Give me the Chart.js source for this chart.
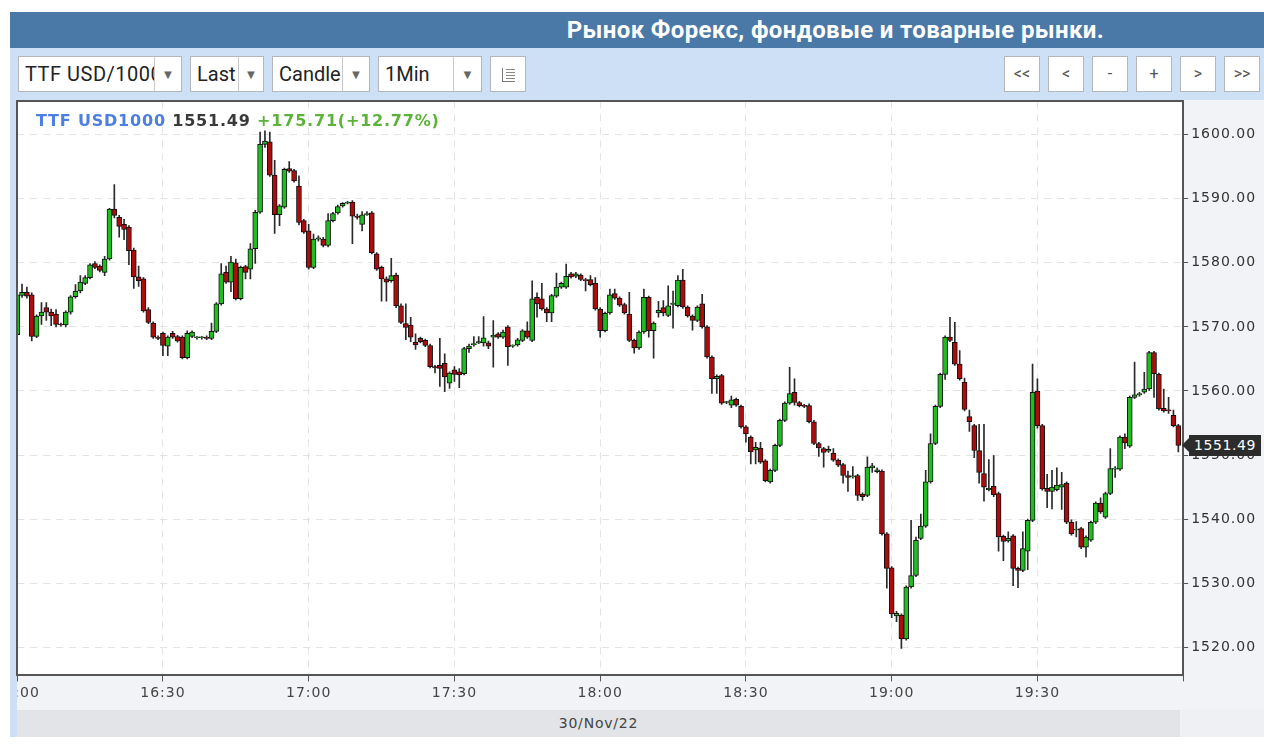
<!DOCTYPE html>
<html><head><meta charset="utf-8">
<script src="https://cdn.jsdelivr.net/npm/chart.js@4.4.1/dist/chart.umd.min.js"></script>
<style>
body{margin:0;background:#fff;width:1264px;height:747px;overflow:hidden;position:relative;font-family:Roboto,"Liberation Sans",sans-serif;}
.abs{position:absolute}
#frame{left:10px;top:12px;width:1254px;height:725px;background:#cde0f6}
#header{left:10px;top:12px;width:1254px;height:36px;background:#4a78a7;color:#fff;font-weight:bold;font-size:24px;letter-spacing:0.35px;line-height:36px;text-align:right;box-sizing:border-box;padding-right:160px;white-space:nowrap}
.sel{position:absolute;top:56px;height:36px;background:#fff;border:1px solid #b3b7bb;box-sizing:border-box;font-size:20px;line-height:34px;color:#222;white-space:nowrap}
.sel .t{position:absolute;left:6px;top:0;overflow:hidden}
.sel .a{position:absolute;right:0;top:0;bottom:0;width:26px;border-left:1px solid #c8c8c8;background:#fff;color:#666;font-size:13px;text-align:center;line-height:36px}
.btn{position:absolute;top:56px;width:36px;height:36px;background:#fff;border:1px solid #b3b7bb;box-sizing:border-box;font-size:16px;line-height:34px;color:#555;text-align:center}
#plotbg{left:17px;top:100px;width:1166px;height:575px;background:#fff}
#axisR{left:1183px;top:100px;width:81px;height:610px;background:#f1f3f6}
#axisB{left:17px;top:675px;width:1166px;height:35px;background:#f1f3f6}
#dateband{left:17px;top:710px;width:1163px;height:27px;background:#e2e4e7;color:#444;font-family:"DejaVu Sans";font-size:14px;letter-spacing:0.8px;line-height:27px;text-align:center}
#corner{left:1180px;top:710px;width:84px;height:27px;background:#eef0f3}
#wrap{left:17px;top:100px;width:1247px;height:610px;overflow:hidden}
#c{position:absolute;left:0;top:0}
#bl{left:16px;top:100px;width:2px;height:576px;background:#555}
#bt{left:16px;top:100px;width:1168px;height:2px;background:#555}
#legend{left:36px;top:111px;font-family:"DejaVu Sans";font-weight:bold;font-size:16px;white-space:nowrap;letter-spacing:0.8px}
#lp{left:1189px;height:21px;width:72px;background:#2c2c2c;color:#fff;font-family:"DejaVu Sans";font-size:14px;line-height:21px;text-align:center;letter-spacing:0.6px}
#lp:before{content:"";position:absolute;left:-7px;top:3px;border-top:7px solid transparent;border-bottom:7px solid transparent;border-right:7px solid #2c2c2c}
</style></head>
<body>
<div id="frame" class="abs"></div>
<div id="header" class="abs">Рынок Форекс, фондовые и товарные рынки.</div>

<div class="sel" style="left:18px;width:164px"><span class="t" style="width:131px;letter-spacing:0.5px">TTF USD/1000</span><span class="a">▼</span></div>
<div class="sel" style="left:190px;width:74px"><span class="t" style="width:46px">Last</span><span class="a" style="width:24px">▼</span></div>
<div class="sel" style="left:272px;width:98px"><span class="t" style="width:66px">Candle</span><span class="a">▼</span></div>
<div class="sel" style="left:378px;width:104px"><span class="t" style="width:70px">1Min</span><span class="a" style="width:27px">▼</span></div>
<div class="btn" style="left:490px"><div style="position:absolute;left:11px;top:11px;width:12px;height:13px;border-left:1px solid #777;border-bottom:1px solid #777;background:repeating-linear-gradient(to bottom,#888 0,#888 1px,transparent 1px,transparent 3px);background-size:9px 12px;background-repeat:no-repeat;background-position:3px 1px"></div></div>

<div class="btn" style="left:1004px">&lt;&lt;</div>
<div class="btn" style="left:1048px">&lt;</div>
<div class="btn" style="left:1092px">-</div>
<div class="btn" style="left:1136px">+</div>
<div class="btn" style="left:1180px">&gt;</div>
<div class="btn" style="left:1224px">&gt;&gt;</div>

<div id="plotbg" class="abs"></div>
<div id="axisR" class="abs"></div>
<div id="axisB" class="abs"></div>
<div id="dateband" class="abs">30/Nov/22</div>
<div id="corner" class="abs"></div>
<div id="wrap" class="abs"><canvas id="c" width="1320" height="660"></canvas></div>
<div id="bl" class="abs"></div>
<div id="bt" class="abs"></div>
<div id="legend" class="abs"><span style="color:#4d7fe2">TTF USD1000</span> <span style="color:#3a3a3a">1551.49</span> <span style="color:#5db33a">+175.71(+12.77%)</span></div>
<div id="lp" class="abs">1551.49</div>

<script>
const startHour = 16, startMinute = 0;
const dateLabel = "30/Nov/22";
const xTickStep = 30;
const yTickStep = 10;

const openV = [
1568.8,1574.9,1575.4,1575.0,1568.5,1571.7,1573.0,1572.3,1572.0,1570.4,
1570.3,1572.3,1574.7,1575.6,1576.8,1577.7,1579.9,1579.5,1578.5,1580.6,
1588.4,1587.1,1586.0,1585.6,1582.0,1577.8,1577.5,1572.7,1570.6,1568.4,
1569.0,1567.0,1569.0,1568.5,1568.4,1565.2,1568.5,1568.3,1568.3,1568.3,
1568.2,1569.3,1573.6,1578.5,1577.0,1580.0,1574.4,1579.4,1579.0,1582.2,
1587.9,1598.5,1598.9,1593.7,1587.5,1588.7,1594.7,1594.4,1592.0,1586.6,
1585.0,1579.3,1583.7,1583.7,1582.7,1586.6,1587.8,1588.9,1589.3,1589.5,
1587.3,1586.0,1587.5,1587.8,1581.4,1579.3,1577.5,1577.2,1578.1,1573.3,
1570.5,1570.3,1567.6,1568.2,1567.9,1567.1,1563.8,1564.0,1564.3,1561.2,
1563.3,1563.0,1562.7,1566.6,1567.2,1567.5,1567.5,1567.5,1568.4,1568.9,
1568.4,1570.0,1567.0,1567.2,1567.9,1569.4,1567.9,1574.6,1574.4,1572.8,
1572.2,1574.8,1576.2,1576.2,1578.3,1577.9,1578.1,1577.4,1577.4,1576.8,
1572.8,1569.4,1572.2,1575.2,1574.5,1573.5,1572.0,1567.9,1566.7,1569.2,
1574.6,1569.4,1572.2,1573.0,1571.8,1573.5,1573.3,1577.3,1573.1,1571.7,
1571.0,1573.6,1570.0,1565.3,1561.9,1562.4,1558.2,1557.8,1558.7,1557.6,
1554.4,1552.8,1550.8,1551.1,1549.1,1545.8,1547.6,1551.5,1555.4,1558.1,
1559.8,1558.2,1557.7,1557.7,1555.2,1551.8,1551.0,1550.6,1550.3,1549.2,
1548.5,1546.8,1546.6,1546.8,1543.9,1543.7,1548.0,1547.4,1547.5,1537.7,
1532.4,1524.9,1525.0,1521.3,1529.4,1531.2,1537.0,1538.9,1545.8,1551.8,
1557.6,1562.6,1568.4,1567.6,1564.2,1561.4,1556.0,1554.6,1550.7,1547.1,
1544.6,1545.1,1544.0,1537.3,1536.6,1537.4,1532.3,1532.0,1535.0,1539.8,
1560.0,1554.6,1544.8,1544.3,1544.6,1545.0,1545.6,1539.5,1538.3,1538.5,
1535.6,1536.7,1539.5,1542.5,1540.3,1544.0,1547.8,1547.8,1552.8,1551.4,
1559.0,1559.4,1559.8,1560.3,1566.0,1562.6,1557.3,1557.0,1556.2,1554.6];

const highV = [
1575.6,1576.7,1576.2,1575.3,1571.9,1573.8,1573.8,1572.8,1572.7,1570.6,
1572.5,1574.9,1576.6,1578.0,1578.0,1579.9,1580.2,1579.7,1581.0,1588.5,
1592.2,1587.4,1586.8,1585.8,1582.3,1579.5,1577.7,1573.0,1570.8,1568.6,
1569.2,1568.6,1569.3,1568.7,1568.6,1569.4,1569.4,1568.5,1568.5,1568.6,
1570.6,1573.8,1579.9,1579.5,1581.0,1580.6,1579.5,1579.6,1583.0,1588.2,
1600.4,1600.6,1600.4,1596.0,1589.1,1594.8,1595.8,1594.6,1593.6,1586.8,
1586.0,1584.5,1584.2,1584.0,1587.7,1587.9,1589.0,1589.4,1589.6,1589.7,
1587.6,1588.0,1588.0,1588.0,1581.6,1579.5,1577.8,1580.7,1578.4,1573.6,
1573.6,1571.5,1568.9,1568.4,1568.1,1567.3,1564.0,1568.2,1565.8,1563.0,
1563.8,1563.5,1566.8,1567.3,1568.5,1568.5,1571.6,1567.8,1571.0,1569.1,
1569.5,1570.2,1567.2,1568.2,1569.6,1570.8,1577.2,1575.3,1576.8,1573.0,
1575.1,1578.4,1577.0,1579.8,1578.5,1578.5,1578.3,1577.6,1578.0,1577.7,
1573.0,1572.3,1575.9,1575.9,1574.7,1573.7,1575.4,1568.1,1569.4,1575.9,
1574.8,1570.8,1574.0,1574.1,1576.4,1575.6,1578.0,1579.0,1573.3,1571.9,
1573.3,1575.1,1570.2,1565.5,1562.5,1562.6,1558.4,1559.2,1558.9,1557.8,
1554.6,1553.0,1552.0,1552.0,1549.3,1547.8,1551.7,1555.6,1558.3,1563.7,
1561.9,1558.4,1557.9,1558.0,1555.4,1552.0,1551.2,1551.4,1551.0,1549.4,
1548.7,1547.5,1548.2,1547.0,1544.1,1549.7,1548.7,1548.0,1547.7,1537.9,
1532.6,1525.6,1525.2,1529.6,1539.8,1537.2,1540.8,1547.6,1553.3,1557.8,
1562.8,1568.6,1571.5,1570.7,1566.3,1562.0,1557.0,1554.8,1554.8,1554.8,
1549.3,1549.9,1544.2,1537.5,1538.0,1537.6,1532.5,1538.0,1540.0,1564.2,
1561.9,1554.8,1547.0,1547.6,1548.0,1547.3,1545.8,1539.9,1539.6,1538.7,
1537.4,1539.7,1542.7,1543.3,1544.2,1551.0,1548.2,1553.0,1553.3,1559.2,
1564.5,1559.8,1562.9,1566.2,1566.2,1562.8,1560.3,1559.0,1557.0,1554.8];

const lowV = [
1568.4,1574.6,1574.5,1567.8,1568.3,1570.4,1571.0,1570.2,1570.0,1570.1,
1570.0,1572.0,1574.5,1575.3,1576.6,1577.5,1579.1,1578.6,1578.0,1580.4,
1587.0,1584.0,1583.6,1579.7,1576.0,1576.3,1572.3,1570.5,1568.2,1568.0,
1565.5,1565.5,1568.2,1567.6,1565.0,1565.0,1568.3,1568.1,1568.1,1568.0,
1568.0,1569.1,1573.4,1576.8,1575.5,1574.2,1574.2,1577.5,1577.5,1579.9,
1587.7,1598.0,1593.5,1584.6,1585.8,1588.5,1594.1,1592.6,1585.9,1584.6,
1579.0,1579.1,1583.4,1582.5,1582.5,1586.4,1587.6,1588.7,1589.2,1583.0,
1586.8,1585.0,1587.4,1581.4,1578.8,1574.0,1574.0,1577.0,1573.0,1570.5,
1568.0,1567.7,1566.5,1567.5,1566.9,1563.6,1562.8,1560.7,1559.9,1560.4,
1561.5,1560.5,1562.5,1566.0,1567.0,1567.4,1567.0,1566.6,1563.7,1568.2,
1568.2,1564.0,1566.8,1567.0,1567.7,1568.2,1567.7,1571.5,1572.6,1570.8,
1570.8,1574.6,1576.0,1576.0,1577.6,1577.7,1577.2,1575.6,1576.4,1572.6,
1568.4,1569.2,1572.0,1574.3,1573.2,1572.0,1567.7,1565.9,1566.5,1569.0,
1568.4,1565.1,1571.5,1571.7,1571.6,1569.8,1573.1,1572.9,1571.5,1569.5,
1570.8,1569.8,1565.1,1559.6,1559.6,1557.9,1558.0,1557.4,1557.6,1554.2,
1552.0,1548.6,1548.6,1548.7,1545.8,1545.6,1547.4,1551.3,1555.2,1557.9,
1557.8,1557.5,1557.4,1555.0,1551.6,1549.8,1548.1,1550.4,1549.0,1548.2,
1545.6,1544.3,1546.4,1542.9,1542.9,1543.5,1547.3,1547.2,1537.5,1529.2,
1524.6,1524.0,1519.8,1521.1,1529.2,1531.0,1536.8,1538.7,1545.6,1551.6,
1557.4,1561.8,1567.7,1564.0,1561.7,1556.9,1553.7,1549.6,1545.6,1542.8,
1544.4,1543.5,1535.0,1533.5,1536.4,1529.6,1529.3,1531.8,1532.1,1539.6,
1554.2,1544.5,1541.8,1541.6,1544.4,1541.5,1539.3,1537.5,1537.2,1535.4,
1534.1,1536.5,1539.3,1540.9,1540.1,1543.8,1546.5,1547.6,1551.0,1551.2,
1558.8,1559.2,1559.6,1560.1,1559.0,1557.0,1556.7,1556.5,1554.4,1550.5];

const closeV = [
1575.0,1575.4,1574.8,1568.5,1571.7,1572.3,1572.3,1571.7,1570.4,1570.3,
1572.3,1574.7,1575.6,1577.0,1577.7,1579.7,1579.3,1578.8,1580.6,1588.4,
1587.4,1585.7,1585.2,1581.9,1577.8,1577.2,1572.5,1570.7,1568.4,1568.2,
1567.1,1568.4,1568.4,1567.8,1565.2,1569.0,1569.2,1568.3,1568.3,1568.2,
1569.3,1573.6,1578.3,1577.0,1580.1,1574.4,1579.3,1578.5,1582.2,1587.9,
1598.5,1599.0,1593.7,1587.5,1588.9,1594.6,1594.3,1592.8,1586.3,1584.8,
1579.3,1583.7,1583.9,1582.7,1586.6,1587.7,1588.8,1589.3,1589.4,1587.3,
1587.1,1587.5,1587.7,1581.6,1579.0,1577.5,1577.0,1578.0,1573.3,1570.7,
1569.9,1568.4,1567.2,1567.7,1567.1,1563.8,1563.6,1563.5,1562.2,1562.8,
1562.6,1562.5,1566.6,1567.0,1567.4,1567.7,1568.3,1567.0,1568.7,1568.4,
1569.2,1566.9,1567.0,1568.0,1569.4,1568.4,1574.4,1573.6,1572.8,1572.2,
1574.9,1576.2,1576.8,1577.9,1577.8,1578.3,1577.4,1577.2,1576.6,1572.8,
1569.4,1572.1,1575.0,1574.5,1573.4,1572.2,1567.9,1566.7,1569.2,1574.6,
1569.4,1570.6,1572.6,1572.2,1573.3,1573.7,1577.3,1573.1,1571.7,1571.0,
1573.1,1570.0,1565.3,1561.9,1562.3,1558.1,1558.2,1558.6,1557.8,1554.4,
1553.3,1550.5,1551.2,1548.9,1546.0,1547.6,1551.5,1555.4,1558.1,1559.6,
1558.2,1557.7,1557.6,1555.2,1551.8,1551.1,1550.4,1550.9,1549.2,1548.4,
1546.8,1546.5,1546.6,1543.7,1543.5,1548.1,1548.3,1547.7,1537.7,1532.3,
1525.2,1525.3,1521.3,1529.4,1531.2,1536.7,1538.9,1545.8,1551.8,1557.6,
1562.6,1568.4,1567.9,1564.2,1561.9,1557.1,1555.2,1550.7,1547.3,1545.0,
1544.8,1543.8,1537.2,1536.5,1537.0,1532.3,1532.0,1535.4,1539.8,1559.8,
1554.6,1544.7,1544.3,1545.0,1545.3,1545.4,1539.5,1537.7,1538.3,1535.6,
1537.2,1539.5,1542.5,1541.1,1544.0,1547.9,1547.9,1552.8,1551.9,1559.0,
1559.4,1559.6,1560.3,1566.0,1562.7,1557.2,1556.9,1556.9,1554.6,1551.49];

const yMin = 1515.6, yMax = 1605.2;
const totalMinutes = 240;

function timeLabel(m){
  const t = startHour*60 + startMinute + m;
  const h = Math.floor(t/60), mm = t%60;
  return String(h).padStart(2,'0') + ':' + String(mm).padStart(2,'0');
}

const upColor = '#1fbd1f', downColor = '#ad0c0c';
const bodyData = openV.map((o,i)=>({x:i, y:[o, closeV[i]]}));
const wickData = lowV.map((l,i)=>({x:i, y:[l, highV[i]]}));
const bodyColors = openV.map((o,i)=> closeV[i] >= o ? upColor : downColor);

const spacing = {
  id:'spacing',
  beforeDraw(chart){ chart.ctx.letterSpacing = '1px'; }
};

const canvas = document.getElementById('c');
const chart = new Chart(canvas, {
  type:'bar',
  data:{datasets:[
    {label:'body', data: bodyData, order:0, grouped:false, barThickness:5, minBarLength:1,
     backgroundColor: bodyColors, borderColor:'#111', borderWidth:1, borderSkipped:false},
    {label:'wick', data: wickData, order:1, grouped:false, barThickness:1,
     backgroundColor:'#2a2a2a', borderWidth:0}
  ]},
  options:{
    responsive:false, animation:false, events:[],
    layout:{padding:{left:0,right:0,top:0,bottom:0}},
    plugins:{legend:{display:false}, tooltip:{enabled:false}},
    scales:{
      x:{type:'linear', min:0, max:totalMinutes, offset:false,
         ticks:{stepSize:xTickStep, autoSkip:false, maxRotation:0, color:'#444',
                font:{family:'DejaVu Sans', size:14}, padding:4,
                callback:(v)=> (v % xTickStep === 0 && v < totalMinutes) ? timeLabel(v) : ''},
         grid:{offset:false, color:'#e3e3e3', lineWidth:1, drawTicks:true, tickLength:6, tickColor:'#555', tickWidth:1},
         border:{display:true, color:'#555', width:2, dash:[7,6]}},
      y:{position:'right', min:yMin, max:yMax,
         afterFit:(scale)=>{ scale.width += 20; },
         ticks:{stepSize:yTickStep, includeBounds:false, color:'#333',
                font:{family:'DejaVu Sans', size:14}, padding:3,
                callback:(v)=> Number(v).toFixed(2)},
         grid:{offset:false, color:'#e3e3e3', lineWidth:1, tickLength:5, tickColor:'#555', tickWidth:1},
         border:{display:true, color:'#555', width:2, dash:[7,6]}}
    }
  },
  plugins:[spacing]
});

// fit chart area to 1166 x 574
let a = chart.chartArea;
chart.options.layout.padding.right = (a.right - a.left) - 1166;
chart.options.layout.padding.bottom = (a.bottom - a.top) - 574;
chart.update();
a = chart.chartArea;
canvas.style.left = (0 - a.left) + 'px';
canvas.style.top = (1 - a.top) + 'px';

const lastY = chart.scales.y.getPixelForValue(closeV[closeV.length-1]);
document.getElementById('lp').style.top = (100 + 1 - a.top + lastY - 10) + 'px';
</script>
</body></html>
